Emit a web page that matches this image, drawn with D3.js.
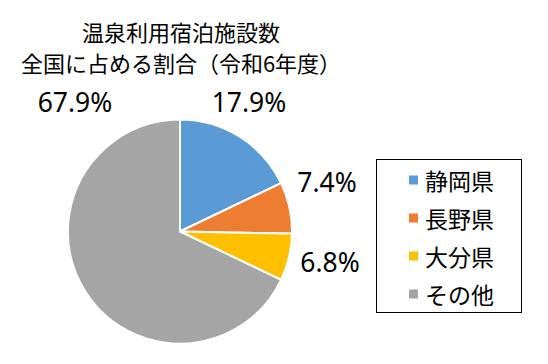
<!DOCTYPE html>
<html>
<head>
<meta charset="utf-8">
<script src="https://cdn.jsdelivr.net/npm/d3@7"></script>
<style>
  body { margin: 0; background: #fff; }
  text { font-family: "Noto Sans CJK JP", "Noto Sans", sans-serif; fill: #000; }
</style>
</head>
<body>
<script>
const width = 548;
const height = 364;

// data
const categories = ["静岡県", "長野県", "大分県", "その他"];
const values = [17.9, 7.4, 6.8, 67.9];
const colors = ["#5B9BD5", "#ED7D31", "#FFC000", "#A5A5A5"];
const titleLines = ["温泉利用宿泊施設数", "全国に占める割合（令和6年度）"];

// label positions (centre of each % label)
const labelPos = [[249, 102], [327, 182], [330, 262], [75, 102]];

const svg = d3.select("body").append("svg")
    .attr("width", width)
    .attr("height", height);

// title
svg.append("g").selectAll("text")
    .data(titleLines)
    .enter().append("text")
    .attr("x", 181)
    .attr("y", (d, i) => 41 + i * 31)
    .attr("text-anchor", "middle")
    .style("font-size", "22px")
    .text(d => d);

// pie
const cx = 180, cy = 231.5, r = 112;
const pie = d3.pie().sort(null).value(d => d);
const arc = d3.arc().innerRadius(0).outerRadius(r);

const g = svg.append("g").attr("transform", `translate(${cx},${cy})`);
g.selectAll("path")
    .data(pie(values))
    .enter().append("path")
    .attr("d", arc)
    .attr("fill", (d, i) => colors[i])
    .attr("stroke", "#fff")
    .attr("stroke-width", 2);

// percent labels
svg.append("g").selectAll("text")
    .data(values)
    .enter().append("text")
    .attr("x", (d, i) => labelPos[i][0])
    .attr("y", (d, i) => labelPos[i][1])
    .attr("text-anchor", "middle")
    .attr("dominant-baseline", "central")
    .style("font-family", "'Noto Sans', sans-serif")
    .style("font-size", "26.5px")
    .text(d => d.toFixed(1) + "%");

// legend
const legend = svg.append("g");
legend.append("rect")
    .attr("x", 376.5)
    .attr("y", 159.5)
    .attr("width", 145)
    .attr("height", 153)
    .attr("fill", "none")
    .attr("stroke", "#000")
    .attr("stroke-width", 1);

const item = legend.selectAll(".item")
    .data(categories)
    .enter().append("g")
    .attr("class", "item")
    .attr("transform", (d, i) => `translate(409, ${180 + i * 38})`);

item.append("rect")
    .attr("x", 0)
    .attr("y", -4.5)
    .attr("width", 9)
    .attr("height", 9)
    .attr("fill", (d, i) => colors[i]);

item.append("text")
    .attr("x", 16)
    .attr("y", 0)
    .attr("dominant-baseline", "central")
    .style("font-size", "23px")
    .text(d => d);
</script>
</body>
</html>
